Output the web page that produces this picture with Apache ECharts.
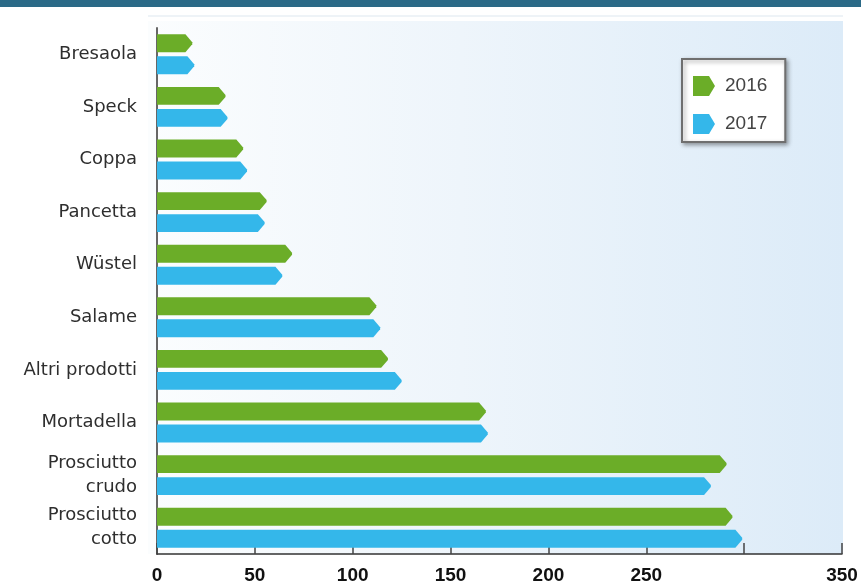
<!DOCTYPE html>
<html>
<head>
<meta charset="utf-8">
<script src="https://cdn.jsdelivr.net/npm/echarts@6/dist/echarts.min.js"></script>
<style>
  html, body { margin: 0; padding: 0; background: #ffffff; }
  #chart { width: 861px; height: 585px; }
</style>
</head>
<body>
<div id="chart"></div>
<script>
// Product categories, top to bottom
const categories = [
  'Bresaola', 'Speck', 'Coppa', 'Pancetta', 'Wüstel', 'Salame',
  'Altri prodotti', 'Mortadella', 'Prosciutto\ncrudo', 'Prosciutto\ncotto'
];
const seriesNames = ['2016', '2017'];
const values2016 = [18, 35, 44, 56, 69, 112, 118, 168, 291, 294];
const values2017 = [19, 36, 46, 55, 64, 114, 125, 169, 283, 299];
// x-axis tick labels (0..350 step 50); the 300 mark carries no label
const xTickLabels = ['0', '50', '100', '150', '200', '250', '', '350'];

const colors = ['#6bad28', '#34b7ea'];

// Arrow-shaped horizontal bar; side = -1 (upper bar) or +1 (lower bar)
function arrowBar(side) {
  return function (params, api) {
    const catIdx = api.value(1);
    const start = api.coord([0, catIdx]);
    const end = api.coord([api.value(0), catIdx]);
    const band = api.size([0, 1])[1];
    const h = band * 0.34;
    const yc = end[1] + side * band * 0.209;
    const tip = h * 0.38;
    const x0 = start[0];
    const x1 = end[0];
    const top = yc - h / 2, bot = yc + h / 2;
    return {
      type: 'polygon',
      shape: {
        points: [
          [x0, top], [x1 - tip, top], [x1, yc - 1], [x1, yc + 1], [x1 - tip, bot], [x0, bot]
        ]
      },
      style: { fill: api.visual('color') }
    };
  };
}

function toData(vals) {
  return vals.map((v, i) => [v, i]);
}

const chart = echarts.init(document.getElementById('chart'), null, { renderer: 'canvas' });

chart.setOption({
  animation: false,
  backgroundColor: '#ffffff',
  graphic: [
    {
      type: 'rect', z: -10, silent: true,
      shape: { x: 0, y: 0, width: 861, height: 7 },
      style: { fill: '#2b6a87' }
    },
    {
      type: 'rect', z: -10, silent: true,
      shape: { x: 148, y: 15, width: 695, height: 2 },
      style: { fill: '#eef3f7' }
    },
    {
      type: 'rect', z: -10, silent: true,
      shape: { x: 148, y: 21, width: 695, height: 533 },
      style: {
        fill: new echarts.graphic.LinearGradient(0, 0, 1, 0, [
          { offset: 0, color: '#fbfdfe' },
          { offset: 0.45, color: '#eef5fb' },
          { offset: 1, color: '#dcebf8' }
        ])
      }
    }
  ],
  grid: { left: 157, right: 19, top: 28, bottom: 31, containLabel: false },
  legend: {
    data: seriesNames.map((n, i) => ({
      name: n,
      icon: 'path://M0,0 L16,0 L22,10 L16,20 L0,20 Z',
      itemStyle: { color: colors[i] }
    })),
    orient: 'vertical',
    left: 682,
    top: 59,
    itemWidth: 24,
    itemHeight: 20,
    itemGap: 18,
    padding: [17, 18, 8, 11],
    backgroundColor: '#ffffff',
    borderColor: '#6f6f6f',
    borderWidth: 2,
    shadowColor: 'rgba(0,0,0,0.35)',
    shadowBlur: 4,
    shadowOffsetX: 2,
    shadowOffsetY: 2,
    textStyle: { fontSize: 19, color: '#444', fontFamily: 'Liberation Sans, Arial, sans-serif', padding: [0, 0, 0, 4] }
  },
  xAxis: {
    type: 'value',
    min: 0,
    max: 350,
    interval: 50,
    axisLine: { show: true, lineStyle: { color: '#333', width: 1.5 } },
    axisTick: { show: true, inside: true, length: 11, lineStyle: { color: '#444', width: 1.5 } },
    splitLine: { show: false },
    axisLabel: {
      margin: 12,
      fontSize: 19,
      fontWeight: 'bold',
      color: '#111',
      fontFamily: 'Liberation Sans, Arial, sans-serif',
      formatter: function (v) { return xTickLabels[Math.round(v / 50)]; }
    }
  },
  yAxis: {
    type: 'category',
    data: categories,
    inverse: true,
    axisLine: { show: true, lineStyle: { color: '#666', width: 2 } },
    axisTick: { show: false },
    splitLine: { show: false },
    axisLabel: {
      margin: 20,
      fontSize: 18,
      lineHeight: 24,
      color: '#2e2e2e',
      fontFamily: 'DejaVu Sans, sans-serif'
    }
  },
  series: [
    {
      name: seriesNames[0],
      type: 'custom',
      renderItem: arrowBar(-1),
      itemStyle: { color: colors[0] },
      encode: { x: 0, y: 1 },
      data: toData(values2016),
      z: 5
    },
    {
      name: seriesNames[1],
      type: 'custom',
      renderItem: arrowBar(1),
      itemStyle: { color: colors[1] },
      encode: { x: 0, y: 1 },
      data: toData(values2017),
      z: 5
    }
  ]
});
</script>
</body>
</html>
